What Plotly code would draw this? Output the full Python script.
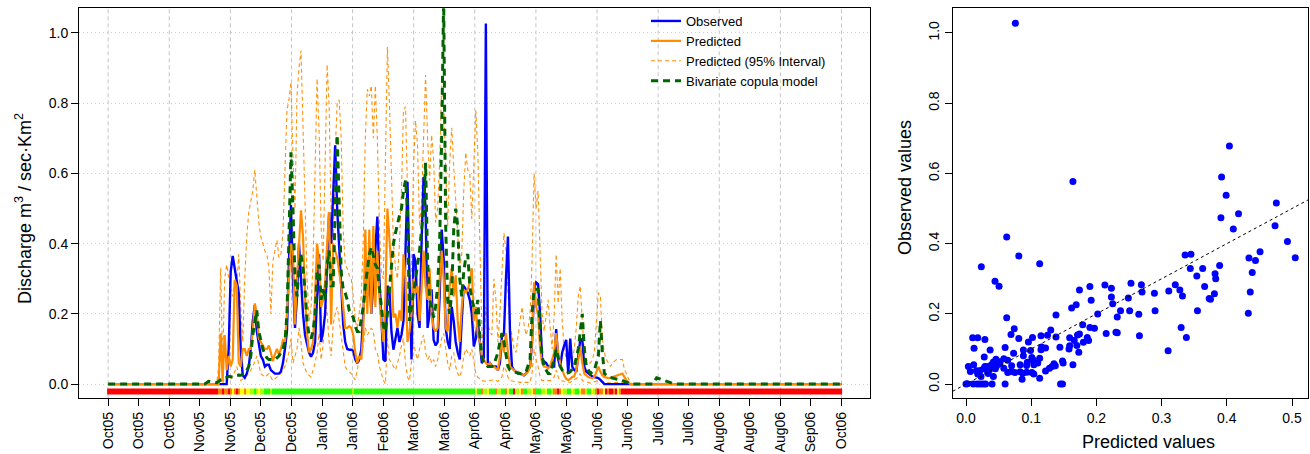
import plotly.graph_objects as go

# ---------------- data ----------------
TICK_LABELS = ["Oct05", "Oct05", "Oct05", "Nov05", "Nov05", "Dec05", "Dec05", "Jan06", "Jan06",
               "Feb06", "Mar06", "Mar06", "Apr06", "Apr06", "May06", "May06", "Jun06", "Jun06",
               "Jul06", "Jul06", "Aug06", "Aug06", "Aug06", "Sep06", "Oct06"]
N_DAYS = 365  # 1 Oct 2005 .. 1 Oct 2006

# observed discharge (day index, value)
OBSERVED = [(0, 0), (59, 0), (60, 0.10), (61, 0.32), (62, 0.365), (63, 0.33), (64, 0.29), (65, 0.26),
            (66, 0.10), (67, 0.025), (68, 0.018), (69, 0.03), (70, 0.05), (71, 0.10), (72, 0.18),
            (73, 0.225), (74, 0.15), (75, 0.11), (76, 0.08), (77, 0.07), (78, 0.05), (79, 0.055),
            (80, 0.055), (81, 0.04), (82, 0.035), (83, 0.03), (84, 0.03), (85, 0.03), (86, 0.036),
            (87, 0.06), (88, 0.10), (89, 0.15), (90, 0.35), (91, 0.51), (92, 0.30), (93, 0.16),
            (94, 0.25), (95, 0.40), (96, 0.30), (97, 0.20), (98, 0.14), (99, 0.11), (100, 0.09),
            (101, 0.078), (102, 0.09), (103, 0.12), (104, 0.25), (105, 0.37), (106, 0.12), (107, 0.15),
            (108, 0.20), (109, 0.35), (110, 0.49), (111, 0.40), (112, 0.55), (113, 0.68), (114, 0.50),
            (115, 0.39), (116, 0.26), (117, 0.17), (118, 0.12), (119, 0.10), (120, 0.098), (121, 0.098),
            (122, 0.095), (123, 0.07), (124, 0.06), (125, 0.07), (126, 0.098), (127, 0.20), (128, 0.30),
            (129, 0.25), (130, 0.34), (131, 0.20), (132, 0.30), (133, 0.40), (134, 0.477), (135, 0.30),
            (136, 0.20), (137, 0.07), (138, 0.065), (139, 0.28), (140, 0.27), (141, 0.15), (142, 0.098),
            (143, 0.13), (144, 0.16), (145, 0.12), (146, 0.14), (147, 0.18), (148, 0.40), (149, 0.576),
            (150, 0.30), (151, 0.07), (152, 0.37), (153, 0.35), (154, 0.20), (155, 0.16), (156, 0.40),
            (157, 0.59), (158, 0.50), (159, 0.16), (160, 0.20), (161, 0.27), (162, 0.126), (163, 0.11),
            (164, 0.12), (165, 0.25), (166, 0.44), (167, 0.36), (168, 0.16), (169, 0.12), (170, 0.10),
            (171, 0.22), (172, 0.18), (173, 0.12), (174, 0.09), (175, 0.07), (176, 0.18), (177, 0.28),
            (178, 0.27), (179, 0.26), (180, 0.24), (181, 0.20), (182, 0.107), (183, 0.13), (184, 0.18),
            (185, 0.12), (186, 0.06), (187, 0.07), (188, 1.027), (189, 0.06), (190, 0.06), (191, 0.05),
            (192, 0.05), (193, 0.05), (194, 0.04), (195, 0.06), (196, 0.135), (197, 0.14), (198, 0.30),
            (199, 0.42), (200, 0.15), (201, 0.05), (202, 0.04), (203, 0.035), (204, 0.03), (205, 0.03),
            (206, 0.028), (207, 0.025), (208, 0.03), (209, 0.04), (210, 0.05), (211, 0.12), (212, 0.27),
            (213, 0.29), (214, 0.285), (215, 0.20), (216, 0.07), (217, 0.065), (218, 0.06), (219, 0.05),
            (220, 0.05), (221, 0.05), (222, 0.05), (223, 0.157), (224, 0.07), (225, 0.05), (226, 0.09),
            (227, 0.11), (228, 0.126), (229, 0.03), (230, 0.13), (231, 0.05), (232, 0.04), (233, 0.035),
            (234, 0.09), (235, 0.126), (236, 0.128), (237, 0.05), (238, 0.035), (239, 0.03), (240, 0.025),
            (241, 0.022), (242, 0.02), (243, 0.018), (244, 0.017), (245, 0.012), (246, 0.005), (247, 0),
            (365, 0)]

# predicted discharge (day index, value)
PREDICTED = [(0, 0), (55, 0), (56, 0.145), (57, 0.01), (58, 0.14), (59, 0.04), (60, 0.08), (61, 0.05),
             (62, 0.07), (63, 0.297), (64, 0.28), (65, 0.06), (66, 0.05), (67, 0.10), (68, 0.10), (69, 0.08),
             (70, 0.10), (71, 0.10), (72, 0.15), (73, 0.23), (74, 0.20), (75, 0.13), (76, 0.12), (77, 0.11),
             (78, 0.10), (79, 0.10), (80, 0.11), (81, 0.09), (82, 0.065), (83, 0.085), (84, 0.10), (85, 0.085),
             (86, 0.10), (87, 0.125), (88, 0.12), (89, 0.20), (90, 0.31), (91, 0.40), (92, 0.38), (93, 0.17),
             (94, 0.30), (95, 0.40), (96, 0.495), (97, 0.42), (98, 0.25), (99, 0.146), (100, 0.09),
             (101, 0.10), (102, 0.12), (103, 0.25), (104, 0.40), (105, 0.35), (106, 0.22), (107, 0.24),
             (108, 0.29), (109, 0.40), (110, 0.49), (111, 0.17), (112, 0.40), (113, 0.38), (114, 0.36),
             (115, 0.32), (116, 0.28), (117, 0.22), (118, 0.16), (119, 0.16), (120, 0.165), (121, 0.16),
             (122, 0.14), (123, 0.09), (124, 0.06), (125, 0.08), (126, 0.07), (127, 0.15), (128, 0.44),
             (129, 0.20), (130, 0.44), (131, 0.20), (132, 0.45), (133, 0.22), (134, 0.38), (135, 0.25),
             (136, 0.17), (137, 0.12), (138, 0.25), (139, 0.50), (140, 0.42), (141, 0.33), (142, 0.19),
             (143, 0.20), (144, 0.16), (145, 0.21), (146, 0.18), (147, 0.37), (148, 0.30), (149, 0.12),
             (150, 0.15), (151, 0.20), (152, 0.30), (153, 0.26), (154, 0.28), (155, 0.18), (156, 0.27),
             (157, 0.38), (158, 0.28), (159, 0.24), (160, 0.33), (161, 0.20), (162, 0.16), (163, 0.15),
             (164, 0.16), (165, 0.30), (166, 0.38), (167, 0.30), (168, 0.16), (169, 0.15), (170, 0.28),
             (171, 0.33), (172, 0.25), (173, 0.31), (174, 0.18), (175, 0.12), (176, 0.22), (177, 0.27),
             (178, 0.26), (179, 0.27), (180, 0.29), (181, 0.33), (182, 0.18), (183, 0.22), (184, 0.14),
             (185, 0.12), (186, 0.08), (187, 0.07), (188, 0.06), (189, 0.055), (190, 0.06), (191, 0.05),
             (192, 0.05), (193, 0.045), (194, 0.04), (195, 0.08), (196, 0.126), (197, 0.09), (198, 0.145),
             (199, 0.09), (200, 0.05), (201, 0.045), (202, 0.04), (203, 0.035), (204, 0.035), (205, 0.03),
             (206, 0.026), (207, 0.025), (208, 0.03), (209, 0.035), (210, 0.05), (211, 0.12), (212, 0.29),
             (213, 0.22), (214, 0.20), (215, 0.10), (216, 0.06), (217, 0.05), (218, 0.05), (219, 0.045),
             (220, 0.05), (221, 0.07), (222, 0.09), (223, 0.145), (224, 0.09), (225, 0.06), (226, 0.04),
             (227, 0.025), (228, 0.015), (229, 0.012), (230, 0.015), (231, 0.02), (232, 0.022), (233, 0.04),
             (234, 0.07), (235, 0.107), (236, 0.06), (237, 0.03), (238, 0.025), (239, 0.02), (240, 0.018),
             (241, 0.017), (242, 0.02), (243, 0.035), (244, 0.05), (245, 0.035), (246, 0.025), (247, 0.02),
             (248, 0.018), (249, 0.017), (250, 0.018), (251, 0.02), (252, 0.022), (253, 0.024), (254, 0.026),
             (255, 0.028), (256, 0.03), (257, 0.02), (258, 0.01), (259, 0.005), (260, 0), (365, 0)]

# upper bound of the 95% predictive interval
UPPER_95 = [(0, 0), (54, 0), (55, 0.05), (56, 0.33), (57, 0.06), (58, 0.30), (59, 0.34), (60, 0.30),
            (61, 0.27), (62, 0.25), (63, 0.30), (64, 0.28), (65, 0.37), (66, 0.22), (67, 0.12), (68, 0.30),
            (69, 0.42), (70, 0.49), (71, 0.52), (72, 0.55), (73, 0.61), (74, 0.52), (75, 0.46), (76, 0.42),
            (77, 0.40), (78, 0.38), (79, 0.37), (80, 0.33), (81, 0.20), (82, 0.35), (83, 0.38), (84, 0.41),
            (85, 0.36), (86, 0.37), (87, 0.43), (88, 0.62), (89, 0.78), (90, 0.81), (91, 0.86), (92, 0.65),
            (93, 0.50), (94, 0.82), (95, 0.90), (96, 0.95), (97, 0.72), (98, 0.45), (99, 0.30), (100, 0.18),
            (101, 0.22), (102, 0.35), (103, 0.62), (104, 0.87), (105, 0.72), (106, 0.45), (107, 0.35),
            (108, 0.62), (109, 0.91), (110, 0.79), (111, 0.48), (112, 0.38), (113, 0.66), (114, 0.80),
            (115, 0.81), (116, 0.70), (117, 0.44), (118, 0.34), (119, 0.33), (120, 0.31), (121, 0.30),
            (122, 0.25), (123, 0.18), (124, 0.16), (125, 0.20), (126, 0.25), (127, 0.42), (128, 0.70),
            (129, 0.84), (130, 0.82), (131, 0.85), (132, 0.70), (133, 0.85), (134, 0.70), (135, 0.45),
            (136, 0.32), (137, 0.30), (138, 0.60), (139, 0.96), (140, 0.80), (141, 0.62), (142, 0.40),
            (143, 0.33), (144, 0.30), (145, 0.40), (146, 0.55), (147, 0.78), (148, 0.79), (149, 0.55),
            (150, 0.28), (151, 0.33), (152, 0.62), (153, 0.75), (154, 0.68), (155, 0.45), (156, 0.52),
            (157, 0.70), (158, 0.88), (159, 0.70), (160, 0.58), (161, 0.71), (162, 0.64), (163, 0.46),
            (164, 0.50), (165, 0.63), (166, 0.85), (167, 0.80), (168, 0.60), (169, 0.45), (170, 0.63),
            (171, 0.73), (172, 0.62), (173, 0.52), (174, 0.40), (175, 0.33), (176, 0.37), (177, 0.55),
            (178, 0.66), (179, 0.61), (180, 0.60), (181, 0.47), (182, 0.62), (183, 0.78), (184, 0.66),
            (185, 0.35), (186, 0.15), (187, 0.10), (188, 0.22), (189, 0.17), (190, 0.15), (191, 0.14),
            (192, 0.30), (193, 0.24), (194, 0.12), (195, 0.20), (196, 0.33), (197, 0.43), (198, 0.38),
            (199, 0.25), (200, 0.16), (201, 0.14), (202, 0.10), (203, 0.09), (204, 0.14), (205, 0.18),
            (206, 0.22), (207, 0.17), (208, 0.14), (209, 0.16), (210, 0.20), (211, 0.35), (212, 0.60),
            (213, 0.50), (214, 0.55), (215, 0.38), (216, 0.20), (217, 0.15), (218, 0.19), (219, 0.24),
            (220, 0.16), (221, 0.10), (222, 0.20), (223, 0.37), (224, 0.23), (225, 0.33), (226, 0.18),
            (227, 0.10), (228, 0.07), (229, 0.06), (230, 0.08), (231, 0.07), (232, 0.10), (233, 0.16),
            (234, 0.25), (235, 0.28), (236, 0.18), (237, 0.09), (238, 0.07), (239, 0.06), (240, 0.06),
            (241, 0.07), (242, 0.09), (243, 0.18), (244, 0.26), (245, 0.25), (246, 0.13), (247, 0.09),
            (248, 0.07), (249, 0.06), (250, 0.05), (251, 0.06), (252, 0.065), (253, 0.07), (254, 0.07),
            (255, 0.07), (256, 0.07), (257, 0.04), (258, 0.03), (259, 0.015), (260, 0.005), (261, 0),
            (365, 0)]

# lower bound of the 95% predictive interval
LOWER_95 = [(0, 0), (55, 0), (56, 0.02), (57, 0.0), (58, 0.02), (60, 0.01), (62, 0.02), (64, 0.05),
            (66, 0.01), (68, 0.02), (70, 0.03), (72, 0.05), (74, 0.08), (76, 0.03), (78, 0.02), (80, 0.03),
            (82, 0.01), (84, 0.02), (86, 0.03), (88, 0.05), (90, 0.09), (91, 0.13), (92, 0.06), (94, 0.10),
            (95, 0.16), (96, 0.12), (97, 0.06), (99, 0.03), (101, 0.02), (103, 0.06), (104, 0.09),
            (105, 0.145), (106, 0.07), (107, 0.11), (108, 0.24), (109, 0.20), (110, 0.12), (111, 0.08),
            (112, 0.17), (113, 0.20), (114, 0.22), (115, 0.18), (116, 0.14), (117, 0.10), (118, 0.05),
            (119, 0.04), (120, 0.035), (121, 0.03), (122, 0.02), (123, 0.012), (124, 0.04), (125, 0.07),
            (126, 0.08), (127, 0.11), (128, 0.16), (129, 0.14), (130, 0.15), (131, 0.16), (132, 0.15),
            (133, 0.10), (134, 0.09), (135, 0.05), (136, 0.03), (137, 0.01), (138, 0.0), (139, 0.13),
            (140, 0.07), (141, 0.06), (142, 0.05), (143, 0.04), (144, 0.06), (145, 0.08), (146, 0.11),
            (147, 0.13), (148, 0.06), (149, 0.02), (150, 0.01), (151, 0.06), (152, 0.12), (153, 0.09),
            (154, 0.07), (155, 0.10), (156, 0.12), (157, 0.14), (158, 0.09), (159, 0.07), (160, 0.08),
            (161, 0.06), (162, 0.07), (163, 0.05), (164, 0.07), (165, 0.10), (166, 0.13), (167, 0.145),
            (168, 0.10), (169, 0.06), (170, 0.04), (171, 0.08), (172, 0.09), (173, 0.05), (174, 0.03),
            (175, 0.02), (176, 0.04), (177, 0.08), (178, 0.10), (179, 0.09), (180, 0.08), (181, 0.10),
            (182, 0.07), (183, 0.03), (184, 0.02), (185, 0.015), (186, 0.01), (188, 0.008), (190, 0.01),
            (192, 0.012), (194, 0.008), (196, 0.02), (197, 0.05), (198, 0.04), (199, 0.02), (200, 0.01),
            (205, 0.005), (210, 0.005), (211, 0.03), (212, 0.10), (213, 0.07), (214, 0.05), (215, 0.02),
            (216, 0.01), (220, 0.01), (222, 0.02), (223, 0.04), (224, 0.02), (225, 0.01), (230, 0.005),
            (234, 0.02), (235, 0.03), (236, 0.01), (240, 0.003), (244, 0.01), (245, 0.008), (250, 0.003),
            (256, 0.006), (260, 0), (365, 0)]

# bivariate copula model (value at day 167 runs past the top of the panel)
COPULA = [(0, 0), (48, 0), (50, 0.008), (52, 0.006), (54, 0.004), (56, 0.012), (58, 0.016), (60, 0.022),
          (62, 0.02), (64, 0.025), (66, 0.025), (68, 0.03), (70, 0.05), (71, 0.08), (72, 0.14), (73, 0.18),
          (74, 0.21), (75, 0.15), (76, 0.12), (77, 0.10), (78, 0.085), (79, 0.075), (80, 0.07), (81, 0.07),
          (82, 0.07), (83, 0.07), (84, 0.075), (85, 0.08), (86, 0.09), (87, 0.10), (88, 0.12), (89, 0.20),
          (90, 0.42), (91, 0.66), (92, 0.50), (93, 0.30), (94, 0.25), (95, 0.33), (96, 0.37), (97, 0.33),
          (98, 0.27), (99, 0.18), (100, 0.14), (101, 0.13), (102, 0.15), (103, 0.20), (104, 0.32),
          (105, 0.34), (106, 0.24), (107, 0.27), (108, 0.24), (109, 0.34), (110, 0.38), (111, 0.28),
          (112, 0.28), (113, 0.50), (114, 0.71), (115, 0.52), (116, 0.32), (117, 0.27), (118, 0.26),
          (119, 0.24), (120, 0.21), (121, 0.20), (122, 0.19), (123, 0.165), (124, 0.15), (125, 0.15),
          (126, 0.18), (127, 0.22), (128, 0.28), (129, 0.33), (130, 0.37), (131, 0.39), (132, 0.36),
          (133, 0.34), (134, 0.33), (135, 0.28), (136, 0.22), (137, 0.165), (138, 0.15), (139, 0.20),
          (140, 0.27), (141, 0.34), (142, 0.40), (143, 0.43), (144, 0.46), (145, 0.48), (146, 0.50),
          (147, 0.55), (148, 0.58), (149, 0.50), (150, 0.18), (151, 0.22), (152, 0.26), (153, 0.30),
          (154, 0.35), (155, 0.38), (156, 0.44), (157, 0.49), (158, 0.63), (159, 0.35), (160, 0.24),
          (161, 0.22), (162, 0.19), (163, 0.22), (164, 0.28), (165, 0.40), (166, 0.70), (167, 1.10),
          (168, 0.45), (169, 0.24), (170, 0.20), (171, 0.26), (172, 0.44), (173, 0.50), (174, 0.45),
          (175, 0.30), (176, 0.25), (177, 0.32), (178, 0.36), (179, 0.37), (180, 0.28), (181, 0.24),
          (182, 0.22), (183, 0.20), (184, 0.24), (185, 0.14), (186, 0.08), (187, 0.06), (188, 0.055),
          (189, 0.05), (190, 0.05), (191, 0.05), (192, 0.055), (193, 0.07), (194, 0.09), (195, 0.12),
          (196, 0.145), (197, 0.12), (198, 0.08), (199, 0.05), (200, 0.04), (202, 0.035), (205, 0.03),
          (208, 0.035), (210, 0.07), (211, 0.20), (212, 0.27), (213, 0.27), (214, 0.27), (215, 0.15),
          (216, 0.08), (217, 0.05), (218, 0.04), (219, 0.03), (220, 0.03), (221, 0.05), (222, 0.07),
          (223, 0.10), (224, 0.07), (225, 0.05), (226, 0.04), (228, 0.03), (230, 0.035), (232, 0.05),
          (234, 0.10), (235, 0.15), (236, 0.20), (237, 0.10), (238, 0.05), (240, 0.03), (242, 0.04),
          (244, 0.08), (245, 0.18), (246, 0.09), (247, 0.03), (249, 0.02), (252, 0.017), (255, 0.012),
          (258, 0.006), (260, 0), (271, 0), (273, 0.018), (276, 0.012), (279, 0.006), (282, 0), (365, 0)]

# daily colour-coded strip under the series: (class, number of consecutive days)
STRIP_RUNS = [("R", 55),
              ("O", 2), ("R", 1), ("O", 2), ("R", 1), ("O", 1), ("Y", 1), ("O", 1), ("R", 1), ("O", 1),
              ("Y", 2), ("O", 1), ("Y", 2), ("L", 2), ("G", 1), ("L", 1), ("Y", 1), ("L", 2), ("G", 3),
              ("L", 1), ("G", 2),
              ("G", 38), ("L", 1), ("G", 60),
              ("Y", 1), ("G", 2), ("O", 1), ("L", 2), ("Y", 1), ("G", 3), ("O", 1), ("L", 2), ("G", 2),
              ("O", 1), ("Y", 1), ("G", 2), ("R", 1), ("L", 2), ("Y", 1), ("O", 1), ("G", 2), ("L", 2),
              ("Y", 1), ("O", 1), ("G", 3), ("L", 2), ("Y", 1), ("G", 2), ("L", 1), ("O", 2), ("R", 1),
              ("O", 1), ("Y", 1), ("L", 2), ("G", 2), ("Y", 1), ("L", 1), ("G", 2), ("Y", 1), ("O", 2),
              ("L", 1), ("G", 2), ("Y", 1), ("L", 1), ("O", 1), ("R", 1), ("O", 2), ("Y", 1), ("R", 1),
              ("O", 1), ("R", 2), ("O", 1), ("R", 1), ("Y", 1), ("O", 1), ("R", 2),
              ("R", 108)]
STRIP_CLASSES = ["R", "O", "Y", "L", "G"]
STRIP_COLORS = ["#FF0000", "#FF8000", "#FFFF00", "#A8FF00", "#22FF00"]

# scatter panel: (predicted, observed)
SCATTER = [(0.0757, 1.028), (0.404, 0.678), (0.392, 0.590), (0.399, 0.538), (0.164, 0.577), (0.476, 0.516),
           (0.418, 0.485), (0.391, 0.474), (0.410, 0.442), (0.474, 0.451), (0.0624, 0.419), (0.493, 0.406),
           (0.451, 0.377), (0.336, 0.368), (0.345, 0.370), (0.081, 0.365), (0.434, 0.359), (0.505, 0.360),
           (0.444, 0.352), (0.113, 0.343), (0.389, 0.338), (0.0235, 0.334), (0.344, 0.329), (0.363, 0.329),
           (0.439, 0.318), (0.382, 0.314), (0.354, 0.308), (0.383, 0.300), (0.0445, 0.293), (0.253, 0.287),
           (0.0507, 0.279), (0.190, 0.278), (0.213, 0.282), (0.269, 0.283), (0.321, 0.283), (0.366, 0.278),
           (0.223, 0.273), (0.174, 0.268), (0.311, 0.265), (0.328, 0.268), (0.270, 0.262), (0.436, 0.262),
           (0.289, 0.259), (0.381, 0.257), (0.332, 0.251), (0.223, 0.248), (0.249, 0.245), (0.373, 0.244),
           (0.375, 0.242), (0.192, 0.239), (0.225, 0.229), (0.169, 0.226), (0.162, 0.217), (0.237, 0.209),
           (0.251, 0.209), (0.290, 0.209), (0.355, 0.209), (0.433, 0.202), (0.202, 0.200), (0.265, 0.199),
           (0.138, 0.197), (0.232, 0.191), (0.0624, 0.189), (0.179, 0.169), (0.074, 0.158), (0.330, 0.161),
           (0.190, 0.161), (0.197, 0.159), (0.130, 0.154), (0.230, 0.148), (0.232, 0.146), (0.215, 0.144),
           (0.174, 0.143), (0.171, 0.140), (0.069, 0.141), (0.115, 0.138), (0.125, 0.139), (0.266, 0.138),
           (0.0102, 0.132), (0.018, 0.132), (0.081, 0.130), (0.029, 0.127), (0.102, 0.133), (0.338, 0.133),
           (0.159, 0.132), (0.186, 0.133), (0.138, 0.134), (0.0957, 0.120), (0.188, 0.124), (0.166, 0.124),
           (0.180, 0.119), (0.170, 0.110), (0.0123, 0.102), (0.060, 0.104), (0.116, 0.106), (0.144, 0.105),
           (0.159, 0.109), (0.122, 0.103), (0.037, 0.097), (0.088, 0.097), (0.099, 0.096), (0.115, 0.098),
           (0.158, 0.100), (0.173, 0.091), (0.310, 0.095), (0.073, 0.088), (0.113, 0.074), (0.028, 0.077),
           (0.046, 0.071), (0.058, 0.072), (0.064, 0.068), (0.088, 0.081), (0.101, 0.076), (0.103, 0.069),
           (0.042, 0.063), (0.052, 0.064), (0.094, 0.062), (0.0036, 0.050), (0.0118, 0.055), (0.032, 0.050),
           (0.039, 0.055), (0.047, 0.052), (0.083, 0.055), (0.093, 0.053), (0.104, 0.055), (0.135, 0.058),
           (0.137, 0.052), (0.148, 0.066), (0.149, 0.060), (0.164, 0.055), (0.128, 0.045), (0.132, 0.050),
           (0.122, 0.037), (0.036, 0.041), (0.045, 0.044), (0.058, 0.045), (0.069, 0.036), (0.075, 0.033),
           (0.087, 0.031), (0.101, 0.033), (0.104, 0.029), (0.093, 0.034), (0.0067, 0.036), (0.016, 0.038),
           (0.0215, 0.039), (0.027, 0.044), (0.064, 0.033), (0.023, 0.022), (0.042, 0.022), (0.086, 0.014),
           (0.113, 0.017), (0.0, 0.0), (0.002, 0.001), (0.0113, 0.0), (0.017, 0.0), (0.0215, 0.0),
           (0.026, 0.0), (0.030, 0.0), (0.040, 0.0), (0.060, 0.0), (0.145, 0.0), (0.148, 0.0),
           (0.018, 0.029), (0.033, 0.036), (0.052, 0.058), (0.034, 0.030), (0.029, 0.050), (0.110, 0.060),
           (0.083, 0.035), (0.070, 0.052)]

# ---------------- figure ----------------
W, H = 1310, 454
FONT = "Liberation Sans, Arial, Helvetica, sans-serif"

X1_RANGE = [-14.5, 379.2]
Y_RANGE = [-0.0404, 1.0703]
X2_RANGE = [-0.0204, 0.525]

def xdom(a, b):
    return [a / W, b / W]

def ydom(top, bottom):
    return [1 - bottom / H, 1 - top / H]

tick_vals = [k * N_DAYS / (len(TICK_LABELS) - 1) for k in range(len(TICK_LABELS))]
grid_vals = tick_vals[::2]

def unzip(pairs):
    return [p[0] for p in pairs], [p[1] for p in pairs]

fig = go.Figure()

# colour strip (one cell per day)
codes = []
for c, n in STRIP_RUNS:
    codes += [STRIP_CLASSES.index(c)] * n
ncls = len(STRIP_CLASSES)
cscale = []
for i, col in enumerate(STRIP_COLORS):
    cscale.append([i / ncls, col])
    cscale.append([(i + 1) / ncls, col])
fig.add_trace(go.Heatmap(
    z=[codes], x=[i - 0.5 for i in range(len(codes) + 1)], y=[-0.029, -0.0125],
    colorscale=cscale, zmin=-0.5, zmax=ncls - 0.5, showscale=False, zsmooth=False,
    hoverinfo="skip", xaxis="x", yaxis="y"))

iv_line = dict(color="rgba(255,140,0,0.95)", width=1.1, dash="4px,3px")
x, y = unzip(LOWER_95)
fig.add_trace(go.Scatter(x=x, y=y, mode="lines", line=iv_line, showlegend=False,
                         name="Predicted (95% Interval)", xaxis="x", yaxis="y"))
x, y = unzip(UPPER_95)
fig.add_trace(go.Scatter(x=x, y=y, mode="lines", line=iv_line, name="Predicted (95% Interval)",
                         legendrank=3, xaxis="x", yaxis="y"))
x, y = unzip(OBSERVED)
fig.add_trace(go.Scatter(x=x, y=y, mode="lines", line=dict(color="#0000FF", width=2.4),
                         name="Observed", legendrank=1, xaxis="x", yaxis="y"))
x, y = unzip(PREDICTED)
fig.add_trace(go.Scatter(x=x, y=y, mode="lines", line=dict(color="#FF8C00", width=2.2),
                         name="Predicted", legendrank=2, xaxis="x", yaxis="y"))
x, y = unzip(COPULA)
fig.add_trace(go.Scatter(x=x, y=y, mode="lines", line=dict(color="#006400", width=3, dash="7px,5px"),
                         name="Bivariate copula model", legendrank=4, xaxis="x", yaxis="y"))

x, y = unzip(SCATTER)
fig.add_trace(go.Scatter(x=x, y=y, mode="markers", marker=dict(color="#0000FF", size=7, line=dict(width=0)),
                         showlegend=False, xaxis="x2", yaxis="y2"))

axis_common = dict(showline=True, mirror=True, linecolor="black", linewidth=1, ticks="outside",
                   tickcolor="black", ticklen=7, tickwidth=1, zeroline=False,
                   tickfont=dict(family=FONT, size=14, color="black"))

# vertical reference grid at every second date tick (full panel height)
grid_shapes = [dict(type="line", xref="x", yref="y domain", x0=g, x1=g, y0=0, y1=1, layer="below",
                    line=dict(color="#C4C4C4", width=1, dash="4px,3px")) for g in grid_vals]

fig.update_layout(
    width=W, height=H, margin=dict(l=0, r=0, t=0, b=0),
    paper_bgcolor="white", plot_bgcolor="white",
    font=dict(family=FONT, color="black"),
    xaxis=dict(domain=xdom(79, 870), range=X1_RANGE, tickmode="array", tickvals=tick_vals,
               ticktext=TICK_LABELS, tickangle=-90, showgrid=False, anchor="y", **axis_common),
    yaxis=dict(domain=ydom(8.3, 398.3), range=Y_RANGE, tickmode="array",
               tickvals=[0, 0.2, 0.4, 0.6, 0.8, 1.0], ticktext=["0.0", "0.2", "0.4", "0.6", "0.8", "1.0"],
               showgrid=True, gridcolor="#CFCFCF", griddash="1px,3px", gridwidth=1, anchor="x",
               **axis_common),
    xaxis2=dict(domain=xdom(952.7, 1308.3), range=X2_RANGE, tickmode="array",
                tickvals=[0, 0.1, 0.2, 0.3, 0.4, 0.5], ticktext=["0.0", "0.1", "0.2", "0.3", "0.4", "0.5"],
                showgrid=False, anchor="y2", **axis_common),
    yaxis2=dict(domain=ydom(8.3, 398.3), range=Y_RANGE, tickmode="array",
                tickvals=[0, 0.2, 0.4, 0.6, 0.8, 1.0], ticktext=["0.0", "0.2", "0.4", "0.6", "0.8", "1.0"],
                tickangle=-90, showgrid=False, anchor="x2", **axis_common),
    legend=dict(x=646 / W, y=1 - 6 / H, xanchor="left", yanchor="top", bgcolor="rgba(0,0,0,0)",
                borderwidth=0, font=dict(family=FONT, size=13, color="black"), tracegroupgap=0,
                itemwidth=30),
    shapes=grid_shapes + [dict(type="line", xref="x2", yref="y2", x0=X2_RANGE[0], y0=X2_RANGE[0],
                               x1=X2_RANGE[1], y1=X2_RANGE[1],
                               line=dict(color="black", width=1, dash="3px,3px"))],
    annotations=[
        dict(text="Discharge m<sup>3</sup> / sec\u00b7Km<sup>2</sup>", xref="paper", yref="paper",
             x=23 / W, y=1 - 209 / H, xanchor="center", yanchor="middle", textangle=-90,
             showarrow=False, font=dict(family=FONT, size=18, color="black")),
        dict(text="Observed values", xref="paper", yref="paper", x=905 / W, y=1 - 188 / H,
             xanchor="center", yanchor="middle", textangle=-90, showarrow=False,
             font=dict(family=FONT, size=18, color="black")),
        dict(text="Predicted values", xref="paper", yref="paper", x=1148 / W, y=1 - 442 / H,
             xanchor="center", yanchor="middle", showarrow=False,
             font=dict(family=FONT, size=18, color="black")),
    ],
)

fig.write_html("out.html")
